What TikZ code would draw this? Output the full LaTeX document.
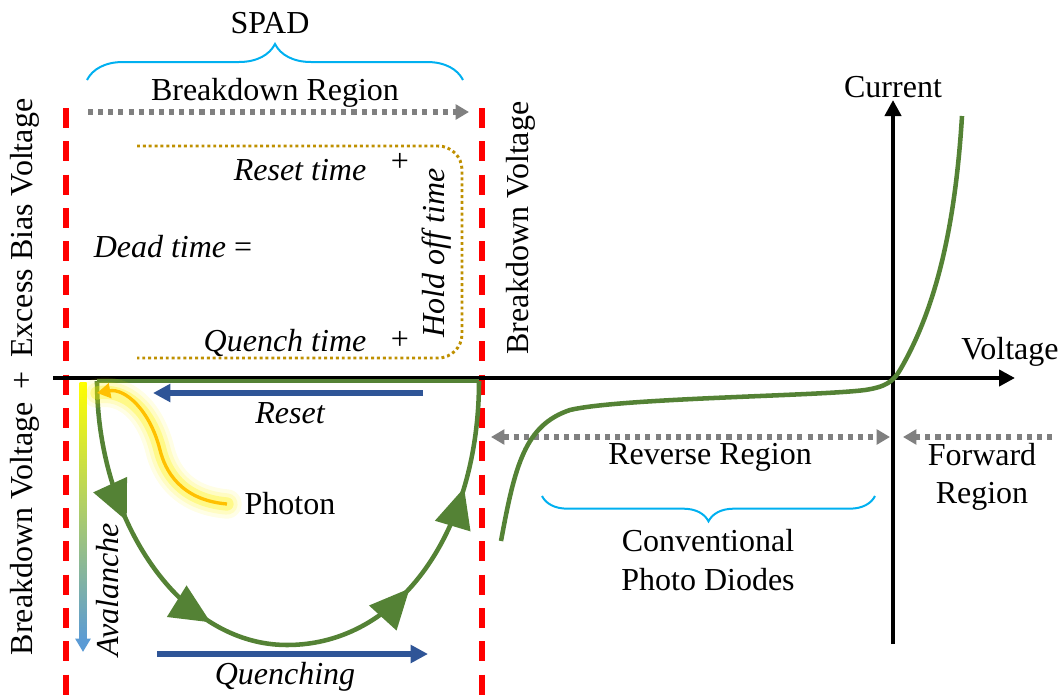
\documentclass[tikz,border=0pt]{standalone}
\usepackage{fontspec}
\setmainfont{Liberation Serif}
\newfontfamily\ivfont{Liberation Serif}
\usetikzlibrary{arrows.meta,positioning,decorations.pathreplacing,decorations.markings}
\definecolor{spadgreen}{RGB}{84,130,53}
\definecolor{flowblue}{RGB}{47,85,151}
\definecolor{bracecyan}{RGB}{0,176,240}
\definecolor{holdgold}{RGB}{191,144,0}
\definecolor{photonorange}{RGB}{255,192,0}
\definecolor{avgreen}{RGB}{169,209,142}
\definecolor{avblue}{RGB}{91,155,213}
\tikzset{lbl/.style={font=\ivfont\fontsize{24}{29}\selectfont,inner sep=0pt,align=center},
ilbl/.style={lbl,font=\ivfont\fontsize{24}{29}\selectfont\itshape},
redline/.style={draw=red,line width=3.8pt,dash pattern=on 15pt off 10pt},
greydots/.style={draw=gray,line width=3.8pt,dash pattern=on 3.8pt off 3.8pt,>={Triangle[length=10pt,width=11pt]}},
blueflow/.style={draw=flowblue,line width=3.8pt,-{Triangle[length=13pt,width=13pt]}},
bracket/.style={draw=bracecyan,line width=1.5pt,decorate,decoration={brace,amplitude=#1}}}
\tikzstyle{axis}      = [line width=3pt,-{Triangle[length=12pt,width=12pt]}]
\tikzstyle{loop}      = [draw=spadgreen,line width=3.4pt,postaction={decorate},
  decoration={markings,
    mark=at position 0.2 with {\arrow{Triangle[length=30pt,width=27pt]}},
    mark=at position 0.385 with {\arrow{Triangle[length=30pt,width=27pt]}},
    mark=at position 0.69 with {\arrow{Triangle[length=30pt,width=27pt]}},
    mark=at position 0.85 with {\arrow{Triangle[length=30pt,width=27pt]}}}]

\begin{document}
\begin{tikzpicture}[x=0.75pt,y=-0.75pt]
		\useasboundingbox (0,0) rectangle (1063,696);

		% region borders
		\coordinate (bl1) at (66,108);
		\coordinate (bl2) at (66,696);
		\coordinate (br1) at (482,108);
		\coordinate (br2) at (482,696);
		\draw[redline] (bl1) -- (bl2);
		\draw[redline] (br1) -- (br2);

		% axes
		\coordinate (xl) at (53,378);
		\coordinate (xr) at (1015,378);
		\coordinate (yb) at (893,644);
		\coordinate (yt) at (893,100);
		\draw[axis] (xl) -- (xr);
		\draw[axis] (yb) -- (yt);

		\begin{scope}[every node/.style={lbl}]
			\node (spad) at (270,23) {SPAD};
			\node (bdreg) at (275,93) {Breakdown Region};
			\node (cur) at (893,87) {Current};
			\node (volt) at (1010,352) {Voltage};
			\node[rotate=90] (leftv) at (25,377) {Breakdown Voltage\hspace{10pt}+\hspace{10pt}Excess Bias Voltage};
			\node[rotate=90] (rightv) at (521,228) {Breakdown Voltage};
			\node (plus1) at (400,162) {+};
			\node (plus2) at (400,340) {+};
			\node (photon) at (290,504) {Photon};
			\node (revreg) at (710,457) {Reverse Region};
			\node (fwdreg) at (982,477) {Forward\\Region};
			\node (conv) at (708,560) {Conventional\\Photo Diodes};
		\end{scope}

		\begin{scope}[every node/.style={ilbl}]
			\node (rst) at (300,170) {Reset time};
			\node (dead) at (173,247) {Dead time \upshape=};
			\node (qch) at (285,343) {Quench time};
			\node[rotate=90] (hold) at (437,253) {Hold off time};
			\node (reset) at (290,413) {Reset};
			\node (quench) at (285,677) {Quenching};
			\node[rotate=90] (aval) at (108,590) {Avalanche};
		\end{scope}

		% braces
		\coordinate (sb1) at (87,80);
		\coordinate (sb2) at (463,80);
		\coordinate (cb1) at (875,496);
		\coordinate (cb2) at (542,496);
		\draw[bracket=27pt] (sb1) -- (sb2);
		\draw[bracket=19pt] (cb1) -- (cb2);

		% region arrows
		\coordinate (ba1) at (88,112);
		\coordinate (ba2) at (469,112);
		\coordinate (ra1) at (491,437);
		\coordinate (ra2) at (890,437);
		\coordinate (fa1) at (1052,437);
		\coordinate (fa2) at (903,437);
		\draw[greydots,->] (ba1) -- (ba2);
		\draw[greydots,<->] (ra1) -- (ra2);
		\draw[greydots,->] (fa1) -- (fa2);

		% hold off bracket
		\draw[holdgold,line width=2.2pt,dash pattern=on 2.2pt off 2.2pt,rounded corners=18pt]
			(137,146) -- (462,146) -- (462,358) -- (137,358);

		% SPAD cycle
		\coordinate (lt) at (97,381);
		\coordinate (bot) at (287,645);
		\coordinate (rt) at (479,381);
		\draw[loop] (lt) .. controls (97,520) and (180,645) .. (bot)
			.. controls (400,645) and (479,530) .. (rt);
		\draw[spadgreen,line width=3.4pt] (rt) -- (lt);

		\coordinate (rs1) at (423,393);
		\coordinate (rs2) at (153,393);
		\coordinate (qc1) at (157,654);
		\coordinate (qc2) at (428,654);
		\draw[blueflow] (rs1) -- (rs2);
		\draw[blueflow] (qc1) -- (qc2);

		% avalanche
		\coordinate (av1) at (83,382);
		\coordinate (av2) at (83,652);
		\draw[avblue,line width=5pt,-{Triangle[length=10pt,width=11pt]}] (av1) -- (av2);
		\shade[top color=yellow,middle color=avgreen,bottom color=avblue]
			(79.5,382) rectangle (86.5,641);

		% photon
		\coordinate (ph1) at (227,504);
		\coordinate (ph2) at (97,393);
		\foreach \w/\o in {22/0.1,16/0.15,10/0.3}
			\draw[yellow,line width=\w pt,opacity=\o,line cap=round]
				(ph1) .. controls (180,500) and (165,470) .. (160,450)
				.. controls (150,410) and (125,388) .. (ph2);
		\draw[photonorange,line width=2.5pt,-{Triangle[length=10pt,width=11pt]}]
			(ph1) .. controls (180,500) and (165,470) .. (160,450)
			.. controls (150,410) and (125,388) .. (ph2);

		% diode curve
		\coordinate (iv1) at (501,541);
		\coordinate (iv2) at (962,116);
		\draw[spadgreen,line width=3.4pt] (iv1) .. controls (515,465) and (525,425) .. (570,410)
			.. controls (620,398) and (820,396) .. (865,390)
			.. controls (885,387) and (893,382) .. (900,370)
			.. controls (935,310) and (955,230) .. (iv2);
	\end{tikzpicture}
\end{document}
